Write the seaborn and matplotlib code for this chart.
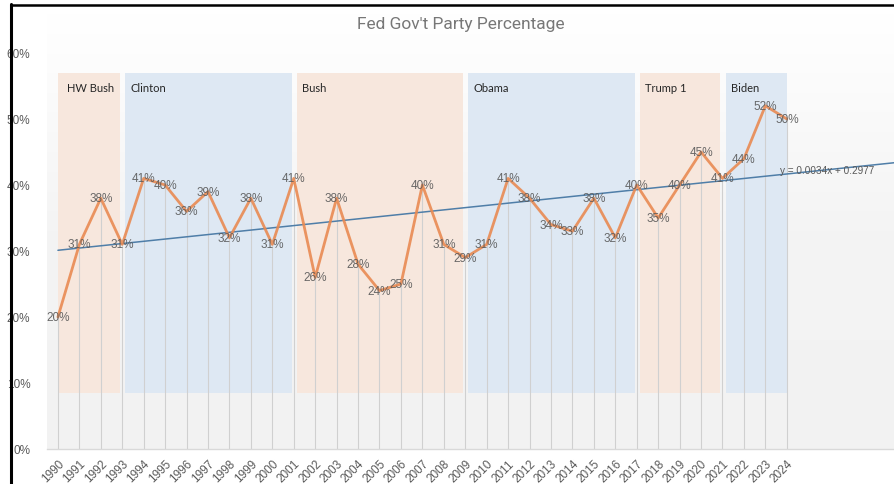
import numpy as np
import pandas as pd
import matplotlib
matplotlib.use("Agg")
import matplotlib.pyplot as plt
from matplotlib.colors import LinearSegmentedColormap
import seaborn as sns

# ---- data ----
years = list(range(1990, 2025))
values = [20, 31, 38, 31, 41, 40, 36, 39, 32, 38, 31, 41, 26, 38, 28, 24, 25, 40,
          31, 29, 31, 41, 38, 34, 33, 38, 32, 40, 35, 40, 45, 41, 44, 52, 50]
presidents = ["HW Bush", "Clinton", "Bush", "Obama", "Trump 1", "Biden"]
term_start = [1990, 1993, 2001, 2009, 2017, 2021]
term_end = [1993, 2001, 2009, 2017, 2021, 2024]
party = ["R", "D", "R", "D", "R", "D"]
trend_slope = 0.0034
trend_intercept = 0.2977
title = "Fed Gov't Party Percentage"
trend_label = "y = 0.0034x + 0.2977"

df = pd.DataFrame({"year": years, "pct": np.array(values) / 100.0})

sns.set_style("white")
plt.rcParams["font.family"] = ["Liberation Sans", "DejaVu Sans"]

fig = plt.figure(figsize=(8.94, 4.85), dpi=100)
ax = fig.add_axes([47 / 894, 35 / 485, 1 - 47 / 894, (450 - 54) / 485])

xmin, xmax = 1989.49, 2029.0
ax.set_xlim(xmin, xmax)
ax.set_ylim(0, 0.6)

# background gradient (white top -> light grey bottom)
cmap = LinearSegmentedColormap.from_list("bg", ["#f2f2f2", "#f4f4f4", "#ffffff"])
grad = np.linspace(0, 1, 256).reshape(-1, 1)
ax.imshow(grad, extent=[xmin, xmax, 0, 0.66], origin="lower", aspect="auto",
          cmap=cmap, zorder=0, clip_on=False)

# president spans
colors = {"R": "#f7e7dd", "D": "#dee8f3"}
for i, (name, s, e, p) in enumerate(zip(presidents, term_start, term_end, party)):
    x0 = s + (0.15 if i > 0 else 0.0)
    x1 = e - (0.1 if i < len(presidents) - 1 else 0.0)
    ax.fill_between([x0, x1], 0.085, 0.57, color=colors[p], lw=0, zorder=1)
    ax.text(s + (0.4 if i > 0 else 0.42), 0.548, name, fontsize=8, color="#262626",
            family=["Lato", "DejaVu Sans"], va="center", ha="left", zorder=5)

# drop lines
ax.vlines(df["year"], 0, df["pct"], color="#d0d0d0", lw=0.8, zorder=2)

# trendline
tx = np.array([1990, xmax])
ty = trend_slope * (tx - 1989) + trend_intercept
ax.plot(tx, ty, color="#4f7ea8", lw=1.1, zorder=3)
ax.text(2023.7, 0.4225, trend_label,
        fontsize=7.2, color="#595959", va="center", ha="left", zorder=6)

# main line
sns.lineplot(data=df, x="year", y="pct", ax=ax, color="#e98a52", lw=2,
             alpha=0.9, zorder=4)

# data labels
for x, v in zip(years, values):
    ax.text(x, v / 100.0, f"{v}%", fontsize=8.5, color="#595959", ha="center",
            va="center", alpha=0.9, zorder=6)

# axes styling
for sp in ["top", "right", "left"]:
    ax.spines[sp].set_visible(False)
ax.spines["bottom"].set_color("#d9d9d9")
ax.spines["bottom"].set_linewidth(1)
ax.set_xticks(years)
ax.set_xticklabels([str(y) for y in years], rotation=45, ha="right",
                   rotation_mode="anchor", fontsize=8.5, color="#595959")
ax.set_yticks([0, 0.1, 0.2, 0.3, 0.4, 0.5, 0.6])
ax.set_yticklabels([f"{int(t*100)}%" for t in [0, 0.1, 0.2, 0.3, 0.4, 0.5, 0.6]],
                   fontsize=8.5, color="#595959")
ax.tick_params(axis="y", length=0, pad=12)
ax.tick_params(axis="x", length=0, pad=6)
ax.set_xlabel("")
ax.set_ylabel("")

fig.text(461 / 894, 1 - 25 / 485, title, fontsize=12.5, color="#777777",
         ha="center", va="center", family=["Roboto", "DejaVu Sans"])

# screenshot frame lines
fig.add_artist(plt.Line2D([11 / 894, 11 / 894], [0, 1 - 5 / 485], color="black",
                          lw=2.2, transform=fig.transFigure))
fig.add_artist(plt.Line2D([11 / 894, 1], [1 - 5.5 / 485, 1 - 5.5 / 485], color="black",
                          lw=1.8, transform=fig.transFigure))

fig.savefig("out.png", dpi=100)
